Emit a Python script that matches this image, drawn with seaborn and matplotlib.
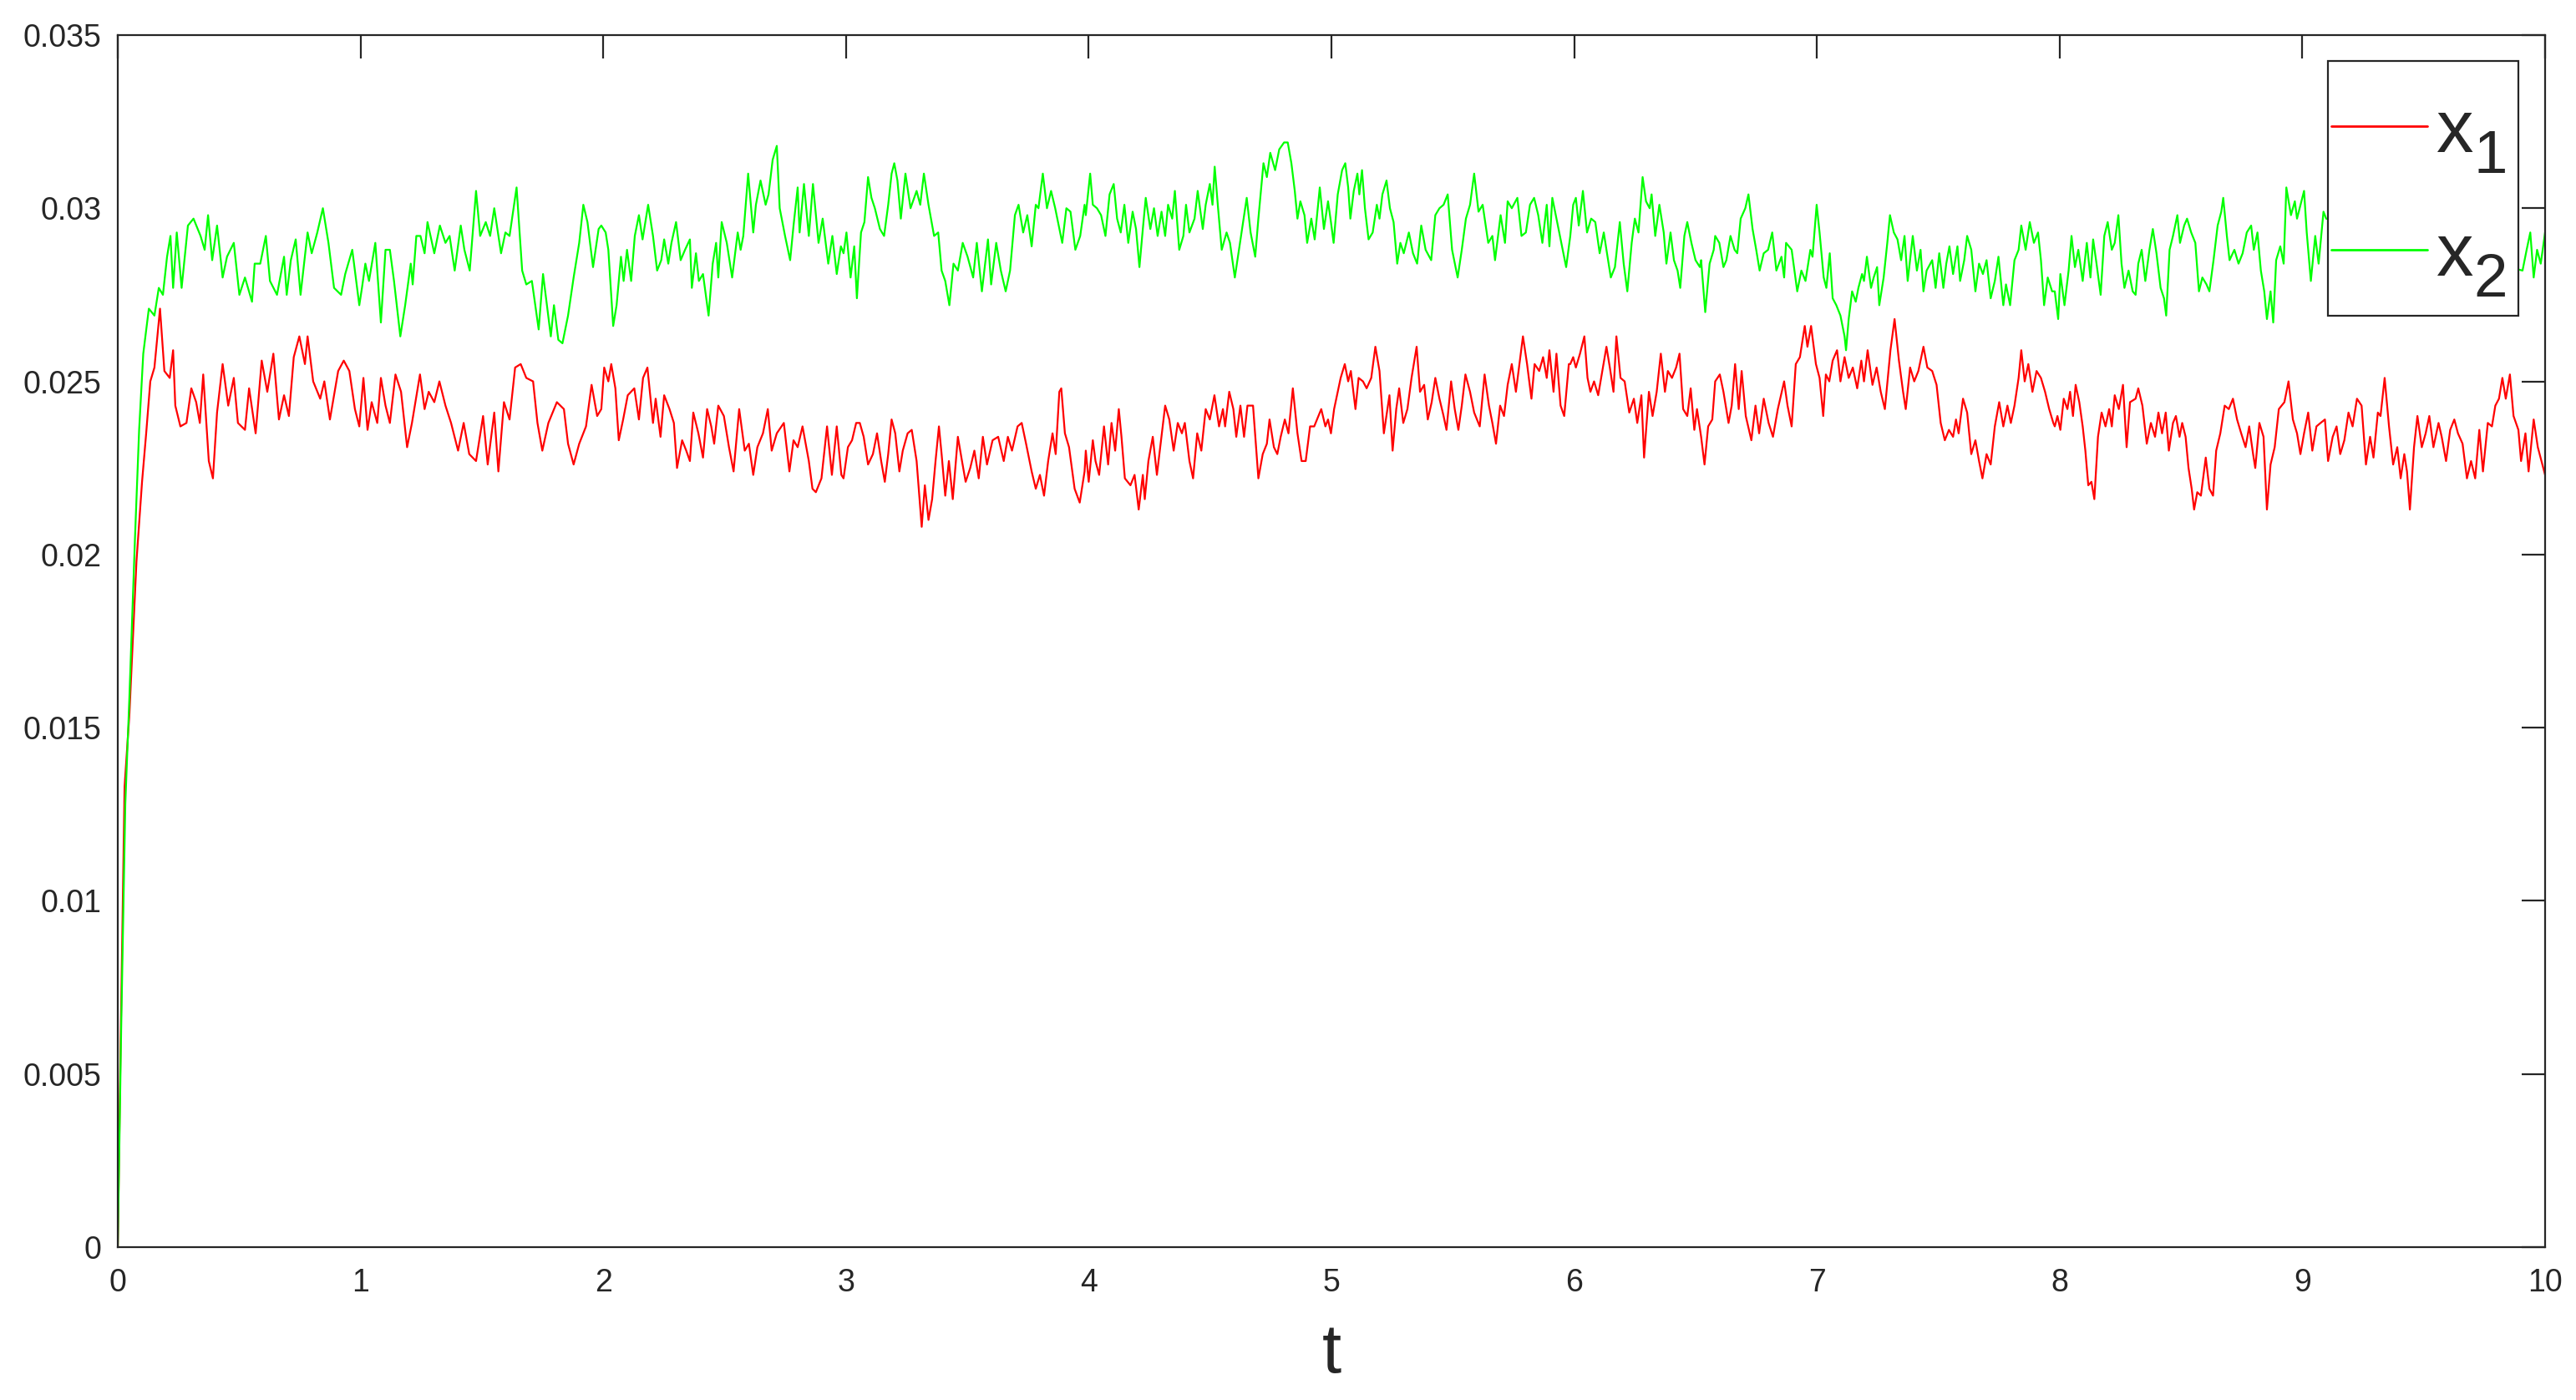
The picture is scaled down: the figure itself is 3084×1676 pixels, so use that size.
import numpy as np
import pandas as pd
import matplotlib
matplotlib.use("Agg")
import matplotlib.pyplot as plt
from matplotlib.patches import Rectangle
import seaborn as sns

# ---------------- data (values in units of 1e-3) ----------------
x2_points = [
    (0.000, 0.0), (0.014, 6.3), (0.031, 12.8), (0.048, 15.9), (0.071, 20.5), (0.088, 23.6), (0.105, 25.8), (0.128, 27.1),
    (0.151, 26.9), (0.169, 27.7), (0.186, 27.5), (0.203, 28.6), (0.217, 29.2), (0.228, 27.7), (0.243, 29.3), (0.263, 27.7),
    (0.289, 29.5), (0.312, 29.7), (0.341, 29.2), (0.358, 28.8), (0.372, 29.8), (0.389, 28.5), (0.409, 29.5), (0.432, 28.0),
    (0.450, 28.6), (0.478, 29.0), (0.501, 27.5), (0.524, 28.0), (0.553, 27.3), (0.564, 28.4), (0.587, 28.4), (0.610, 29.2),
    (0.627, 27.9), (0.656, 27.5), (0.685, 28.6), (0.696, 27.5), (0.713, 28.5), (0.733, 29.1), (0.753, 27.5), (0.782, 29.3),
    (0.799, 28.7), (0.822, 29.3), (0.845, 30.0), (0.868, 29.0), (0.891, 27.7), (0.920, 27.5), (0.937, 28.1), (0.966, 28.8),
    (0.995, 27.2), (1.006, 27.7), (1.020, 28.4), (1.035, 27.9), (1.061, 29.0), (1.084, 26.7), (1.103, 28.8), (1.121, 28.8),
    (1.138, 27.9), (1.164, 26.3), (1.184, 27.2), (1.207, 28.4), (1.215, 27.8), (1.230, 29.2), (1.247, 29.2), (1.264, 28.7),
    (1.276, 29.6), (1.304, 28.7), (1.327, 29.5), (1.350, 29.0), (1.367, 29.2), (1.388, 28.2), (1.413, 29.5), (1.428, 28.8),
    (1.450, 28.2), (1.476, 30.5), (1.493, 29.2), (1.516, 29.6), (1.534, 29.2), (1.551, 30.0), (1.579, 28.7), (1.597, 29.3),
    (1.614, 29.2), (1.643, 30.6), (1.666, 28.2), (1.683, 27.8), (1.706, 27.9), (1.734, 26.5), (1.752, 28.1), (1.784, 26.3),
    (1.797, 27.2), (1.815, 26.2), (1.832, 26.1), (1.855, 26.9), (1.878, 28.0), (1.901, 29.0), (1.918, 30.1), (1.935, 29.6),
    (1.958, 28.3), (1.981, 29.4),
    (1.992, 29.5), (2.010, 29.3), (2.021, 28.8), (2.041, 26.6), (2.055, 27.2), (2.073, 28.6), (2.084, 27.9), (2.098, 28.8),
    (2.115, 27.9), (2.130, 29.2), (2.147, 29.8), (2.162, 29.1), (2.185, 30.1), (2.205, 29.2), (2.222, 28.2), (2.239, 28.5),
    (2.251, 29.1), (2.268, 28.4), (2.281, 29.0), (2.300, 29.6), (2.319, 28.5), (2.337, 28.8), (2.357, 29.1), (2.365, 27.7),
    (2.382, 28.7), (2.394, 27.9), (2.411, 28.1), (2.434, 26.9), (2.451, 28.4), (2.465, 29.0), (2.474, 28.0), (2.488, 29.6),
    (2.509, 29.0), (2.531, 28.0), (2.554, 29.3), (2.566, 28.8), (2.577, 29.2), (2.597, 31.0), (2.618, 29.3), (2.629, 30.1),
    (2.648, 30.8), (2.669, 30.1), (2.681, 30.4), (2.698, 31.4), (2.715, 31.8), (2.727, 30.0), (2.749, 29.2), (2.770, 28.5),
    (2.784, 29.5), (2.801, 30.6), (2.809, 29.3), (2.827, 30.7), (2.847, 29.2), (2.864, 30.7), (2.887, 29.0), (2.904, 29.7),
    (2.927, 28.4), (2.944, 29.2), (2.962, 28.1), (2.979, 28.9),
    (2.990, 28.7), (3.002, 29.3), (3.019, 28.0), (3.034, 28.9), (3.045, 27.4), (3.062, 29.3), (3.076, 29.6), (3.091, 30.9),
    (3.105, 30.3), (3.119, 30.0), (3.140, 29.4), (3.157, 29.2), (3.174, 30.1), (3.188, 31.0), (3.199, 31.3), (3.212, 30.8),
    (3.226, 29.7), (3.245, 31.0), (3.266, 30.0), (3.291, 30.5), (3.306, 30.1), (3.321, 31.0), (3.340, 30.1), (3.363, 29.2),
    (3.380, 29.3), (3.394, 28.2), (3.409, 27.9), (3.426, 27.2), (3.443, 28.4), (3.461, 28.2), (3.481, 29.0), (3.501, 28.6),
    (3.524, 28.0), (3.539, 29.0), (3.560, 27.6), (3.585, 29.1), (3.598, 27.8), (3.619, 29.0), (3.638, 28.2), (3.658, 27.6),
    (3.676, 28.2), (3.696, 29.8), (3.711, 30.1), (3.730, 29.3), (3.747, 29.8), (3.765, 28.9), (3.782, 30.1), (3.793, 30.0),
    (3.811, 31.0), (3.828, 30.0), (3.845, 30.5), (3.862, 30.0), (3.891, 29.0), (3.908, 30.0), (3.925, 29.9), (3.945, 28.8),
    (3.965, 29.2), (3.983, 30.1),
    (3.988, 29.8), (4.006, 31.0), (4.017, 30.1), (4.034, 30.0), (4.051, 29.8), (4.069, 29.2), (4.086, 30.4), (4.103, 30.7),
    (4.117, 29.7), (4.132, 29.3), (4.147, 30.1), (4.163, 29.0), (4.181, 29.9), (4.195, 29.4), (4.209, 28.3), (4.223, 29.4),
    (4.235, 30.3), (4.254, 29.4), (4.269, 30.0), (4.284, 29.2), (4.300, 29.9), (4.315, 29.2), (4.327, 30.1), (4.344, 29.7),
    (4.355, 30.5), (4.373, 28.8), (4.390, 29.2), (4.401, 30.1), (4.415, 29.3), (4.436, 29.7), (4.449, 30.5), (4.470, 29.4),
    (4.482, 30.1), (4.499, 30.7), (4.510, 30.1), (4.519, 31.2), (4.533, 30.0), (4.548, 28.8), (4.568, 29.3), (4.582, 29.0),
    (4.602, 28.0), (4.619, 28.8), (4.636, 29.6), (4.651, 30.3), (4.667, 29.3), (4.686, 28.6), (4.699, 29.7), (4.720, 31.3),
    (4.734, 30.9), (4.748, 31.6), (4.768, 31.1), (4.785, 31.7), (4.805, 31.9), (4.820, 31.9), (4.835, 31.3), (4.849, 30.5),
    (4.860, 29.7), (4.872, 30.2), (4.889, 29.8), (4.900, 29.0), (4.917, 29.7), (4.931, 29.1), (4.952, 30.6), (4.969, 29.4),
    (4.986, 30.2), (4.998, 29.6), (5.009, 29.0), (5.026, 30.4), (5.044, 31.1), (5.057, 31.3), (5.069, 30.6), (5.078, 29.7),
    (5.092, 30.5), (5.107, 31.0), (5.115, 30.4), (5.126, 31.1), (5.138, 30.0), (5.153, 29.1), (5.170, 29.3), (5.187, 30.1),
    (5.198, 29.7), (5.210, 30.4), (5.227, 30.8), (5.241, 30.0), (5.256, 29.6), (5.271, 28.4), (5.284, 29.0), (5.298, 28.7),
    (5.319, 29.3), (5.336, 28.7), (5.353, 28.4), (5.370, 29.5), (5.388, 28.8), (5.411, 28.5), (5.428, 29.8), (5.445, 30.0),
    (5.462, 30.1), (5.479, 30.4), (5.497, 28.8), (5.520, 28.0), (5.537, 28.8), (5.554, 29.7), (5.571, 30.1), (5.588, 31.0),
    (5.606, 29.9), (5.623, 30.1), (5.646, 29.0), (5.663, 29.2), (5.674, 28.5), (5.697, 29.8), (5.715, 29.0), (5.726, 30.2),
    (5.743, 30.0), (5.766, 30.3), (5.783, 29.2), (5.801, 29.3), (5.818, 30.1), (5.835, 30.3), (5.852, 29.8), (5.869, 29.0),
    (5.887, 30.1), (5.898, 28.9), (5.910, 30.3), (5.927, 29.7), (5.950, 28.9), (5.967, 28.3),
    (5.984, 29.2), (5.996, 30.1), (6.007, 30.3), (6.019, 29.5), (6.036, 30.5), (6.053, 29.3), (6.070, 29.7), (6.087, 29.6),
    (6.105, 28.7), (6.122, 29.3), (6.133, 28.8), (6.151, 28.0), (6.168, 28.3), (6.188, 29.6), (6.204, 28.4), (6.219, 27.6),
    (6.237, 29.0), (6.250, 29.7), (6.265, 29.3), (6.282, 30.9), (6.296, 30.2), (6.311, 30.0), (6.319, 30.4), (6.334, 29.2),
    (6.351, 30.1), (6.369, 29.3), (6.380, 28.4), (6.397, 29.3), (6.411, 28.5), (6.426, 28.2), (6.437, 27.7), (6.454, 29.2),
    (6.466, 29.6), (6.483, 29.0), (6.500, 28.5), (6.518, 28.3), (6.523, 28.5), (6.540, 27.0), (6.558, 28.4), (6.575, 28.8),
    (6.581, 29.2), (6.598, 29.0), (6.615, 28.3), (6.627, 28.5), (6.644, 29.2), (6.661, 28.8), (6.672, 28.7), (6.686, 29.7),
    (6.705, 30.0), (6.718, 30.4), (6.735, 29.4), (6.750, 28.8), (6.764, 28.2), (6.781, 28.7), (6.799, 28.8), (6.816, 29.3),
    (6.833, 28.2), (6.854, 28.6), (6.865, 28.0), (6.873, 29.0), (6.896, 28.8), (6.919, 27.6), (6.936, 28.2), (6.953, 27.9),
    (6.973, 28.8),
    (6.982, 28.6), (6.999, 30.1), (7.011, 29.3), (7.028, 28.0), (7.039, 27.7), (7.053, 28.7), (7.065, 27.4), (7.080, 27.2),
    (7.097, 26.9), (7.114, 26.3), (7.120, 25.9), (7.131, 26.8), (7.145, 27.6), (7.160, 27.3), (7.171, 27.7), (7.186, 28.1),
    (7.194, 27.9), (7.206, 28.6), (7.223, 27.7), (7.234, 28.0), (7.248, 28.3), (7.257, 27.2), (7.275, 28.0), (7.290, 29.0),
    (7.301, 29.8), (7.317, 29.3), (7.332, 29.1), (7.347, 28.5), (7.361, 29.2), (7.374, 27.9), (7.395, 29.2), (7.412, 28.2),
    (7.427, 28.8), (7.439, 27.6), (7.452, 28.2), (7.475, 28.5), (7.489, 27.7), (7.504, 28.7), (7.521, 27.7), (7.533, 28.4),
    (7.546, 28.9), (7.561, 28.1), (7.579, 28.9), (7.590, 27.9), (7.607, 28.5), (7.619, 29.2), (7.636, 28.8), (7.653, 27.6),
    (7.668, 28.4), (7.684, 28.1), (7.699, 28.5), (7.716, 27.4), (7.733, 27.9), (7.748, 28.6), (7.768, 27.2), (7.779, 27.8),
    (7.796, 27.2), (7.814, 28.5), (7.831, 28.8), (7.842, 29.5), (7.860, 28.8), (7.877, 29.6), (7.894, 29.0), (7.911, 29.3),
    (7.923, 28.5), (7.936, 27.2), (7.951, 28.0), (7.969, 27.6),
    (7.980, 27.6), (7.994, 26.8), (8.003, 28.1), (8.020, 27.2), (8.037, 28.2), (8.049, 29.2), (8.063, 28.3), (8.077, 28.8),
    (8.095, 27.9), (8.112, 29.0), (8.127, 28.0), (8.138, 29.1), (8.152, 28.4), (8.169, 27.5), (8.184, 29.2), (8.198, 29.6),
    (8.215, 28.8), (8.227, 29.0), (8.242, 29.8), (8.255, 28.4), (8.267, 27.7), (8.284, 28.2), (8.301, 27.6), (8.313, 27.5),
    (8.324, 28.4), (8.338, 28.8), (8.353, 27.9), (8.370, 28.8), (8.384, 29.4), (8.399, 28.7), (8.416, 27.7), (8.430, 27.4),
    (8.439, 26.9), (8.453, 28.8), (8.467, 29.2), (8.485, 29.8), (8.496, 29.0), (8.513, 29.5), (8.525, 29.7), (8.542, 29.3),
    (8.559, 29.0), (8.574, 27.6), (8.588, 28.0), (8.605, 27.8), (8.617, 27.6), (8.634, 28.5), (8.651, 29.5), (8.666, 29.9),
    (8.674, 30.3), (8.689, 29.2), (8.700, 28.5), (8.720, 28.8), (8.737, 28.4), (8.754, 28.7), (8.771, 29.3), (8.789, 29.5),
    (8.800, 28.8), (8.815, 29.3), (8.829, 28.2), (8.843, 27.6), (8.854, 26.8), (8.869, 27.6), (8.880, 26.7), (8.892, 28.5),
    (8.909, 28.9), (8.923, 28.4), (8.934, 30.6), (8.953, 29.8), (8.969, 30.2),
    (8.978, 29.7), (8.989, 30.0), (9.007, 30.5), (9.018, 29.3), (9.035, 27.9), (9.053, 29.2), (9.067, 28.4), (9.087, 29.9),
    (9.098, 29.7),
    (9.907, 28.2), (9.924, 28.8), (9.939, 29.3), (9.953, 28.0), (9.967, 28.8), (9.982, 28.4), (10.000, 29.3),
]

x1_points = [
    (0.000, 0.0), (0.012, 6.0), (0.028, 13.3), (0.048, 15.4), (0.077, 19.8), (0.100, 22.1), (0.117, 23.5), (0.134, 25.0),
    (0.151, 25.4), (0.174, 27.1),
    (0.192, 25.3), (0.214, 25.1), (0.228, 25.9), (0.237, 24.3), (0.258, 23.7), (0.283, 23.8), (0.303, 24.8), (0.323, 24.4),
    (0.338, 23.8), (0.352, 25.2), (0.375, 22.7), (0.392, 22.2), (0.409, 24.1), (0.432, 25.5), (0.455, 24.3), (0.478, 25.1),
    (0.495, 23.8), (0.524, 23.6), (0.541, 24.8), (0.568, 23.5), (0.593, 25.6), (0.616, 24.7), (0.641, 25.8), (0.664, 23.9),
    (0.685, 24.6), (0.705, 24.0), (0.725, 25.7), (0.748, 26.3), (0.771, 25.5), (0.782, 26.3), (0.805, 25.0), (0.834, 24.5),
    (0.851, 25.0), (0.874, 23.9), (0.908, 25.3), (0.931, 25.6), (0.954, 25.3), (0.977, 24.2),
    (0.995, 23.7), (1.012, 25.1), (1.029, 23.6), (1.046, 24.4), (1.069, 23.8), (1.084, 25.1), (1.103, 24.3), (1.121, 23.8),
    (1.144, 25.2), (1.167, 24.7), (1.192, 23.1), (1.212, 23.8), (1.245, 25.2), (1.264, 24.2), (1.281, 24.7), (1.304, 24.4),
    (1.325, 25.0), (1.350, 24.3), (1.373, 23.8), (1.402, 23.0), (1.425, 23.8), (1.448, 22.9), (1.476, 22.7), (1.505, 24.0),
    (1.524, 22.6), (1.551, 24.1), (1.568, 22.4), (1.591, 24.4), (1.614, 23.9), (1.637, 25.4), (1.660, 25.5), (1.683, 25.1),
    (1.711, 25.0), (1.729, 23.8), (1.749, 23.0), (1.774, 23.8), (1.809, 24.4), (1.838, 24.2), (1.855, 23.2), (1.878, 22.6),
    (1.901, 23.2), (1.929, 23.7), (1.952, 24.9), (1.975, 24.0),
    (1.992, 24.2), (2.004, 25.4), (2.021, 25.0), (2.033, 25.5), (2.050, 24.8), (2.064, 23.3), (2.082, 23.9), (2.101, 24.6),
    (2.128, 24.8), (2.147, 23.9), (2.164, 25.1), (2.182, 25.4), (2.205, 23.8), (2.216, 24.5), (2.236, 23.4), (2.251, 24.6),
    (2.273, 24.2), (2.291, 23.8), (2.304, 22.5), (2.325, 23.3), (2.342, 23.0), (2.357, 22.7), (2.371, 24.1), (2.392, 23.5),
    (2.411, 22.8), (2.428, 24.2), (2.445, 23.7), (2.457, 23.2), (2.474, 24.3), (2.497, 24.0), (2.518, 23.1), (2.537, 22.4),
    (2.560, 24.2), (2.583, 23.0), (2.600, 23.2), (2.618, 22.3), (2.635, 23.1), (2.658, 23.5), (2.678, 24.2), (2.694, 23.0),
    (2.715, 23.5), (2.744, 23.8), (2.767, 22.4), (2.784, 23.3), (2.801, 23.1), (2.821, 23.7), (2.847, 22.7), (2.862, 21.9),
    (2.876, 21.8), (2.899, 22.2), (2.922, 23.7), (2.942, 22.3), (2.962, 23.7), (2.981, 22.3),
    (2.990, 22.2), (3.008, 23.1), (3.025, 23.3), (3.042, 23.8), (3.057, 23.8), (3.073, 23.4), (3.091, 22.6), (3.111, 22.9),
    (3.128, 23.5), (3.145, 22.7), (3.160, 22.1), (3.174, 22.9), (3.188, 23.9), (3.203, 23.5), (3.220, 22.4), (3.234, 23.0),
    (3.254, 23.5), (3.271, 23.6), (3.291, 22.7), (3.312, 20.8), (3.325, 22.0), (3.340, 21.0), (3.355, 21.6), (3.369, 22.7),
    (3.383, 23.7), (3.394, 22.9), (3.409, 21.7), (3.424, 22.7), (3.440, 21.6), (3.461, 23.4), (3.478, 22.7), (3.493, 22.1),
    (3.512, 22.5), (3.529, 23.0), (3.547, 22.2), (3.564, 23.4), (3.581, 22.6), (3.604, 23.3), (3.627, 23.4), (3.650, 22.7),
    (3.667, 23.4), (3.684, 23.0), (3.707, 23.7), (3.724, 23.8), (3.742, 23.2), (3.765, 22.4), (3.782, 21.9), (3.799, 22.3),
    (3.816, 21.7), (3.833, 22.7), (3.851, 23.5), (3.864, 22.9), (3.879, 24.7), (3.887, 24.8), (3.902, 23.5), (3.919, 23.1),
    (3.942, 21.9), (3.963, 21.5), (3.983, 22.4),
    (3.988, 23.0), (4.000, 22.1), (4.017, 23.3), (4.028, 22.7), (4.043, 22.3), (4.063, 23.7), (4.080, 22.6), (4.094, 23.8),
    (4.109, 23.0), (4.124, 24.2), (4.135, 23.4), (4.149, 22.2), (4.172, 22.0), (4.189, 22.3), (4.206, 21.3), (4.223, 22.3),
    (4.231, 21.6), (4.246, 22.7), (4.264, 23.4), (4.281, 22.3), (4.298, 23.3), (4.315, 24.3), (4.332, 23.9), (4.350, 23.0),
    (4.367, 23.8), (4.384, 23.5), (4.396, 23.8), (4.415, 22.7), (4.430, 22.2), (4.447, 23.5), (4.464, 23.0), (4.482, 24.2),
    (4.499, 23.9), (4.518, 24.6), (4.537, 23.7), (4.553, 24.2), (4.562, 23.7), (4.579, 24.7), (4.596, 24.2), (4.608, 23.4),
    (4.625, 24.3), (4.640, 23.4), (4.654, 24.3), (4.677, 24.3), (4.699, 22.2), (4.717, 22.9), (4.734, 23.2), (4.745, 23.9),
    (4.763, 23.1), (4.777, 22.9), (4.791, 23.4), (4.808, 23.9), (4.823, 23.5), (4.841, 24.8), (4.860, 23.5), (4.877, 22.7),
    (4.894, 22.7), (4.912, 23.7), (4.929, 23.7), (4.958, 24.2), (4.975, 23.7),
    (4.986, 23.9), (4.998, 23.5), (5.011, 24.2), (5.026, 24.7), (5.038, 25.1), (5.055, 25.5), (5.069, 25.0), (5.080, 25.3),
    (5.099, 24.2), (5.112, 25.1), (5.130, 25.0), (5.145, 24.8), (5.164, 25.1), (5.181, 26.0), (5.198, 25.3), (5.216, 23.5),
    (5.239, 24.6), (5.252, 23.0), (5.267, 24.2), (5.279, 24.8), (5.296, 23.8), (5.313, 24.2), (5.330, 25.1), (5.351, 26.0),
    (5.365, 24.7), (5.382, 24.9), (5.397, 23.9), (5.413, 24.4), (5.428, 25.1), (5.445, 24.5), (5.462, 24.0), (5.474, 23.6),
    (5.493, 25.0), (5.508, 24.2), (5.523, 23.6), (5.537, 24.3), (5.552, 25.2), (5.571, 24.7), (5.588, 24.1), (5.611, 23.7),
    (5.631, 25.2), (5.649, 24.3), (5.663, 23.8), (5.678, 23.2), (5.695, 24.3), (5.711, 24.0), (5.726, 24.9), (5.743, 25.5),
    (5.760, 24.7), (5.778, 25.7), (5.789, 26.3), (5.806, 25.5), (5.824, 24.5), (5.837, 25.5), (5.856, 25.3), (5.872, 25.7),
    (5.887, 25.1), (5.898, 25.9), (5.915, 24.7), (5.927, 25.8), (5.944, 24.3), (5.959, 24.0), (5.978, 25.5),
    (5.984, 25.5), (5.996, 25.7), (6.007, 25.4), (6.024, 25.8), (6.042, 26.3), (6.055, 25.1), (6.067, 24.7), (6.082, 25.0),
    (6.099, 24.6), (6.116, 25.3), (6.133, 26.0), (6.147, 25.4), (6.162, 24.7), (6.174, 26.3), (6.191, 25.1), (6.208, 25.0),
    (6.227, 24.1), (6.246, 24.5), (6.260, 23.8), (6.277, 24.6), (6.288, 22.8), (6.308, 24.7), (6.323, 24.0), (6.340, 24.7),
    (6.357, 25.8), (6.374, 24.7), (6.386, 25.3), (6.403, 25.1), (6.420, 25.4), (6.434, 25.8), (6.449, 24.2), (6.466, 24.0),
    (6.480, 24.8), (6.495, 23.6), (6.506, 24.2), (6.523, 23.4), (6.537, 22.6), (6.552, 23.7), (6.569, 23.9), (6.581, 25.0),
    (6.600, 25.2), (6.615, 24.7), (6.636, 23.8), (6.649, 24.3), (6.663, 25.5), (6.678, 24.2), (6.690, 25.3), (6.707, 24.0),
    (6.730, 23.3), (6.747, 24.3), (6.762, 23.5), (6.781, 24.5), (6.801, 23.8), (6.819, 23.4), (6.839, 24.2), (6.865, 25.0),
    (6.879, 24.3), (6.896, 23.7), (6.913, 25.5), (6.930, 25.7), (6.950, 26.6), (6.961, 26.0), (6.976, 26.6),
    (6.996, 25.5), (7.011, 25.1), (7.026, 24.0), (7.037, 25.2), (7.051, 25.0), (7.065, 25.6), (7.083, 25.9), (7.097, 25.0),
    (7.114, 25.7), (7.131, 25.1), (7.148, 25.4), (7.166, 24.8), (7.183, 25.6), (7.194, 25.0), (7.209, 25.9), (7.229, 24.9),
    (7.246, 25.4), (7.263, 24.7), (7.280, 24.2), (7.303, 25.9), (7.320, 26.8), (7.338, 25.6), (7.355, 24.7), (7.366, 24.2),
    (7.384, 25.4), (7.401, 25.0), (7.418, 25.3), (7.439, 26.0), (7.455, 25.4), (7.475, 25.3), (7.493, 24.9), (7.510, 23.8),
    (7.527, 23.3), (7.544, 23.6), (7.561, 23.4), (7.573, 23.9), (7.584, 23.5), (7.602, 24.5), (7.619, 24.1), (7.636, 22.9),
    (7.653, 23.3), (7.668, 22.7), (7.682, 22.2), (7.699, 22.9), (7.716, 22.6), (7.733, 23.7), (7.751, 24.4), (7.768, 23.7),
    (7.785, 24.3), (7.799, 23.8), (7.814, 24.3), (7.831, 25.1), (7.842, 25.9), (7.856, 25.0), (7.871, 25.5), (7.888, 24.7),
    (7.905, 25.3), (7.923, 25.1), (7.940, 24.7), (7.957, 24.2), (7.974, 23.8),
    (7.980, 23.7), (7.991, 24.0), (8.003, 23.6), (8.017, 24.5), (8.032, 24.2), (8.043, 24.7), (8.055, 24.0), (8.066, 24.9),
    (8.081, 24.4), (8.095, 23.7), (8.106, 23.0), (8.118, 22.0), (8.131, 22.1), (8.143, 21.6), (8.158, 23.4), (8.173, 24.1),
    (8.189, 23.7), (8.204, 24.2), (8.215, 23.7), (8.227, 24.6), (8.244, 24.2), (8.261, 24.9), (8.276, 23.1), (8.290, 24.4),
    (8.313, 24.5), (8.324, 24.8), (8.341, 24.3), (8.359, 23.2), (8.376, 23.8), (8.393, 23.4), (8.407, 24.1), (8.422, 23.5),
    (8.437, 24.1), (8.450, 23.0), (8.467, 23.8), (8.479, 24.0), (8.494, 23.4), (8.505, 23.8), (8.519, 23.4), (8.531, 22.5),
    (8.544, 21.9), (8.554, 21.3), (8.567, 21.8), (8.582, 21.7), (8.602, 22.8), (8.617, 21.9), (8.632, 21.7), (8.645, 23.0),
    (8.662, 23.5), (8.680, 24.3), (8.697, 24.2), (8.714, 24.5), (8.731, 23.9), (8.748, 23.5), (8.766, 23.1), (8.781, 23.7),
    (8.797, 22.9), (8.806, 22.5), (8.823, 23.8), (8.840, 23.4), (8.854, 21.3), (8.869, 22.6), (8.886, 23.1), (8.903, 24.2),
    (8.926, 24.4), (8.943, 25.0), (8.961, 23.9),
    (8.978, 23.5), (8.992, 22.9), (9.007, 23.5), (9.024, 24.1), (9.041, 23.0), (9.058, 23.7), (9.075, 23.8), (9.093, 23.9),
    (9.106, 22.7), (9.125, 23.4), (9.141, 23.7), (9.156, 22.9), (9.173, 23.3), (9.190, 24.1), (9.207, 23.7), (9.225, 24.5),
    (9.244, 24.3), (9.262, 22.6), (9.279, 23.4), (9.293, 22.8), (9.311, 24.1), (9.322, 24.0), (9.339, 25.1), (9.357, 23.7),
    (9.374, 22.6), (9.391, 23.1), (9.405, 22.2), (9.420, 22.9), (9.431, 22.4), (9.443, 21.3), (9.460, 23.1), (9.474, 24.0),
    (9.492, 23.1), (9.508, 23.5), (9.523, 24.0), (9.540, 23.1), (9.561, 23.8), (9.574, 23.4), (9.592, 22.7), (9.609, 23.6),
    (9.626, 23.9), (9.641, 23.5), (9.660, 23.2), (9.678, 22.2), (9.695, 22.7), (9.712, 22.2), (9.729, 23.6), (9.744, 22.4),
    (9.764, 23.8), (9.781, 23.7), (9.795, 24.3), (9.810, 24.5), (9.824, 25.1), (9.838, 24.5), (9.855, 25.2), (9.870, 24.0),
    (9.890, 23.6), (9.901, 22.7), (9.919, 23.5), (9.932, 22.4), (9.953, 23.9), (9.970, 23.1), (9.985, 22.7), (10.000, 22.3),
]

t_x1 = [p[0] for p in x1_points]
x1_vals = [p[1] * 1e-3 for p in x1_points]
t_x2 = [p[0] for p in x2_points]
x2_vals = [p[1] * 1e-3 for p in x2_points]

series_labels = [r"$\mathregular{x_1}$", r"$\mathregular{x_2}$"]
series_colors = [(1.0, 0.0, 0.0), (0.0, 1.0, 0.0)]
x_ticks = [0, 1, 2, 3, 4, 5, 6, 7, 8, 9, 10]
y_ticks = [0, 0.005, 0.01, 0.015, 0.02, 0.025, 0.03, 0.035]
y_ticklabels = ["0", "0.005", "0.01", "0.015", "0.02", "0.025", "0.03", "0.035"]
x_label = "t"

# ---------------- plot ----------------
sns.set_style("white")
plt.rcParams["font.family"] = ["Liberation Sans", "DejaVu Sans"]
plt.rcParams["mathtext.fontset"] = "custom"
plt.rcParams["mathtext.rm"] = "Liberation Sans"

# larger, lower subscripts (MATLAB tex style)
try:
    import matplotlib._mathtext as _mt
    _mt.SHRINK_FACTOR = 0.82
    _mt.FontConstantsBase.sub1 = 0.55
    _mt.FontConstantsBase.sub2 = 0.75
except Exception:
    pass

axcol = "#262626"
fig = plt.figure(figsize=(15.42, 8.38), dpi=200)
ax = fig.add_axes([141 / 3084, 1 - 1493 / 1676, (3047 - 141) / 3084, (1493 - 42) / 1676])

df1 = pd.DataFrame({"t": t_x1, "value": x1_vals})
df2 = pd.DataFrame({"t": t_x2, "value": x2_vals})
sns.lineplot(data=df1, x="t", y="value", color=series_colors[0], lw=0.8, sort=False,
             estimator=None, label=series_labels[0], ax=ax)
sns.lineplot(data=df2, x="t", y="value", color=series_colors[1], lw=0.8, sort=False,
             estimator=None, label=series_labels[1], ax=ax)

ax.set_xlim(0, 10)
ax.set_ylim(0, 0.035)
ax.set_xticks(x_ticks)
ax.set_xticklabels([str(v) for v in x_ticks])
ax.set_yticks(y_ticks)
ax.set_yticklabels(y_ticklabels)
ax.set_xlabel(x_label, fontsize=30, color=axcol, labelpad=10)
ax.set_ylabel("")

for sp in ax.spines.values():
    sp.set_visible(True)
    sp.set_color(axcol)
    sp.set_linewidth(0.8)
ax.tick_params(direction="in", length=10, width=0.8, top=True, right=True,
               colors=axcol, labelsize=13.5)
ax.tick_params(axis="x", pad=9)
ax.tick_params(axis="y", pad=7)

# legend box (MATLAB-style square frame)
box = Rectangle((0.9105, 0.7684), 0.9890 - 0.9105, 0.9786 - 0.7684, transform=ax.transAxes,
                facecolor="white", edgecolor=axcol, linewidth=0.8, zorder=4, clip_on=False)
ax.add_patch(box)

leg = ax.legend(loc="upper right", bbox_to_anchor=(0.9931, 0.9669), fontsize=32,
                handlelength=1.3, handletextpad=0.11, borderpad=0.3,
                labelspacing=0.62, frameon=False, borderaxespad=0.0)
leg.set_zorder(5)
for line in leg.get_lines():
    line.set_linewidth(1.0)

fig.savefig("out.png", dpi=200, facecolor="white")
